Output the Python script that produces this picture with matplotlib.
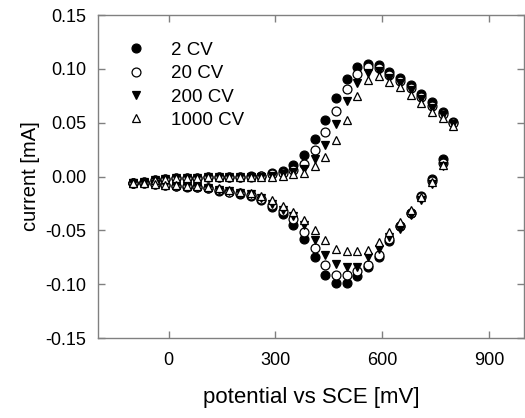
import matplotlib
matplotlib.use('Agg')
import matplotlib.pyplot as plt

plt.rcParams['font.family'] = ['Liberation Sans', 'DejaVu Sans']

# forward scan -100 -> 800 mV, then reverse 770 -> -100 mV
pot_fwd = [-100, -70, -40, -10, 20, 50, 80, 110, 140, 170, 200, 230, 260, 290, 320,
           350, 380, 410, 440, 470, 500, 530, 560, 590, 620, 650, 680, 710, 740, 770, 800]
pot_rev = pot_fwd[-2::-1]
potential = pot_fwd + pot_rev

cv2_fwd = [-0.006, -0.005, -0.003, -0.002, -0.001, -0.001, -0.001, 0.000, 0.000, 0.000, 0.000,
           0.001, 0.001, 0.003, 0.005, 0.011, 0.020, 0.035, 0.053, 0.073, 0.091, 0.102, 0.105,
           0.104, 0.097, 0.092, 0.085, 0.077, 0.069, 0.060, 0.051]
cv20_fwd = [-0.006, -0.005, -0.003, -0.002, -0.001, -0.001, -0.001, 0.000, 0.000, 0.000, 0.000,
            0.000, 0.001, 0.002, 0.003, 0.006, 0.012, 0.025, 0.041, 0.061, 0.081, 0.095, 0.102,
            0.101, 0.094, 0.089, 0.082, 0.074, 0.066, 0.058, 0.050]
cv200_fwd = [-0.006, -0.005, -0.003, -0.002, -0.001, -0.001, -0.001, 0.000, 0.000, 0.000, 0.000,
             0.000, 0.000, 0.001, 0.002, 0.004, 0.007, 0.016, 0.029, 0.049, 0.070, 0.087, 0.096,
             0.098, 0.092, 0.087, 0.080, 0.072, 0.064, 0.057, 0.049]
cv1000_fwd = [-0.006, -0.005, -0.003, -0.002, -0.001, -0.001, -0.001, 0.000, 0.000, 0.000, 0.000,
              0.000, 0.000, 0.000, 0.001, 0.002, 0.003, 0.010, 0.018, 0.034, 0.053, 0.075, 0.090,
              0.093, 0.088, 0.083, 0.076, 0.068, 0.060, 0.054, 0.047]

cv2_rev = [0.016, -0.002, -0.018, -0.034, -0.046, -0.060, -0.075, -0.084, -0.0925, -0.099,
           -0.099, -0.0915, -0.075, -0.058, -0.045, -0.035, -0.028, -0.022, -0.018, -0.016,
           -0.014, -0.013, -0.011, -0.010, -0.0095, -0.009, -0.008, -0.007, -0.006, -0.006]
cv20_rev = [0.013, -0.004, -0.019, -0.034, -0.046, -0.058, -0.073, -0.082, -0.088, -0.091,
            -0.091, -0.082, -0.066, -0.051, -0.039, -0.032, -0.026, -0.021, -0.017, -0.015,
            -0.014, -0.012, -0.011, -0.010, -0.009, -0.009, -0.008, -0.007, -0.006, -0.006]
cv200_rev = [0.010, -0.007, -0.022, -0.036, -0.049, -0.056, -0.067, -0.075, -0.084, -0.084,
             -0.081, -0.073, -0.059, -0.045, -0.037, -0.031, -0.025, -0.020, -0.016, -0.015,
             -0.013, -0.012, -0.011, -0.010, -0.009, -0.009, -0.008, -0.007, -0.006, -0.006]
cv1000_rev = [0.011, -0.005, -0.019, -0.031, -0.042, -0.051, -0.061, -0.068, -0.069, -0.069,
              -0.067, -0.059, -0.050, -0.040, -0.033, -0.027, -0.022, -0.018, -0.015, -0.014,
              -0.012, -0.011, -0.010, -0.009, -0.009, -0.008, -0.008, -0.007, -0.006, -0.006]

labels = ['2 CV', '20 CV', '200 CV', '1000 CV']
currents = [cv2_fwd + cv2_rev, cv20_fwd + cv20_rev, cv200_fwd + cv200_rev, cv1000_fwd + cv1000_rev]
styles = [('o', 'black'), ('o', 'white'), ('v', 'black'), ('^', 'white')]

fig = plt.figure(figsize=(5.25, 4.18), dpi=100)
ax = fig.add_axes([0.186, 0.191, 0.813, 0.773])

for lab, cur, (m, fc) in zip(labels, currents, styles):
    ax.plot(potential, cur, linestyle='none', marker=m, markersize=6.4,
            markerfacecolor=fc, markeredgecolor='black', markeredgewidth=0.9, label=lab)

ax.set_xlim(-200, 1000)
ax.set_ylim(-0.15, 0.15)
ax.set_xticks([0, 300, 600, 900])
ax.set_yticks([-0.15, -0.10, -0.05, 0.00, 0.05, 0.10, 0.15])
ax.set_yticklabels(['-0.15', '-0.10', '-0.05', '0.00', '0.05', '0.10', '0.15'])

for s in ax.spines.values():
    s.set_color('#808080')
    s.set_linewidth(1.0)
ax.tick_params(direction='in', length=5, width=1, color='#808080', labelsize=13,
               top=True, right=True)
ax.tick_params(axis='x', pad=10)
ax.tick_params(axis='y', pad=8)

ax.set_xlabel('potential vs SCE [mV]', fontsize=16, labelpad=13)
ax.set_ylabel('current [mA]', fontsize=14.5, labelpad=4)

ax.legend(loc='upper left', bbox_to_anchor=(0.05, 0.94), frameon=False, fontsize=13.5,
          handlelength=1.0, handletextpad=1.4, labelspacing=0.33, borderaxespad=0)

fig.savefig('out.png', dpi=100)
